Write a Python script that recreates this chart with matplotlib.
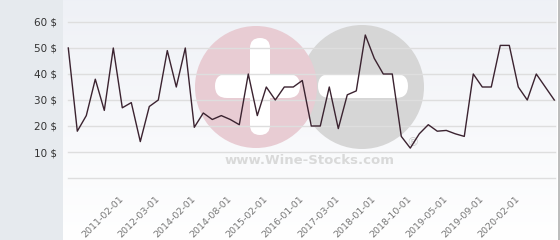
import numpy as np
import matplotlib
matplotlib.use("Agg")
import matplotlib.pyplot as plt
from matplotlib.patches import Circle, FancyBboxPatch, Rectangle

# ---- data ----
values = [50, 18, 24, 38, 26, 50, 27, 29, 14, 27.5, 30, 49, 35, 50,
          19.5, 25, 22.5, 24, 22.5, 20.5, 40, 24, 35, 30, 35, 35, 37.5,
          20, 20, 35, 19, 32, 33.5, 55, 46, 40, 40, 16, 11.5, 17, 20.5,
          18, 18.3, 17, 16, 40, 35, 35, 51, 51, 35, 30, 40, 35, 30]
tick_index = [6, 10, 14, 18, 22, 26, 30, 34, 38, 42, 46, 50]
tick_labels = ["2011-02-01", "2012-03-01", "2014-02-01", "2014-08-01",
               "2015-02-01", "2016-01-01", "2017-03-01", "2018-01-01",
               "2018-10-01", "2019-05-01", "2019-09-01", "2020-02-01"]
y_ticks = [10, 20, 30, 40, 50, 60]
y_labels = ["10 $", "20 $", "30 $", "40 $", "50 $", "60 $"]

W, H = 560, 240
fig = plt.figure(figsize=(W / 100, H / 100), dpi=100)
fig.patch.set_facecolor("white")

# left panel
fig.patches.append(Rectangle((0, 0), 63 / W, 1, transform=fig.transFigure,
                             facecolor="#e6eaee", edgecolor="none", zorder=0))

# gradient background
bg = fig.add_axes([63 / W, 0, (557 - 63) / W, 1], zorder=0)
grad = np.linspace(0, 1, 256).reshape(-1, 1)
top = np.array([0.937, 0.945, 0.965])
bot = np.array([1.0, 1.0, 1.0])
img = top[None, None, :] * (1 - grad[:, :, None]) + bot[None, None, :] * grad[:, :, None]
bg.imshow(img, aspect="auto", extent=[0, 1, 1, 0])
bg.set_axis_off()

# right border
fig.lines.append(plt.Line2D([558.5 / W, 558.5 / W], [0, 1], transform=fig.transFigure,
                            color="#b0b0b0", lw=1.2, zorder=5))

# watermark (pixel coordinates)
wm = fig.add_axes([0, 0, 1, 1], zorder=1)
wm.set_xlim(0, W)
wm.set_ylim(H, 0)
wm.set_axis_off()
wm.patch.set_alpha(0)
wm.add_patch(Circle((362, 87), 62, facecolor="#d6d6d6", edgecolor="none"))
wm.add_patch(Circle((256, 87), 61, facecolor="#e8ccd3", edgecolor="none"))
wm.add_patch(FancyBboxPatch((318, 74), 90, 24, boxstyle="round,pad=0,rounding_size=12",
                            facecolor="white", edgecolor="none"))
wm.add_patch(FancyBboxPatch((215, 74), 85, 24, boxstyle="round,pad=0,rounding_size=12",
                            facecolor="white", edgecolor="none"))
wm.add_patch(FancyBboxPatch((250, 38), 20, 97, boxstyle="round,pad=0,rounding_size=10",
                            facecolor="white", edgecolor="none"))
wm.text(310, 161, "www.Wine-Stocks.com", ha="center", va="center",
        fontsize=9.5, fontweight="bold", color="#d9d9d9", family="DejaVu Sans")
wm.text(413, 143, "®", ha="center", va="center", fontsize=9, color="#d0d0d0")

# main axes
ax = fig.add_axes([68 / W, 62 / H, (555 - 68) / W, 156 / H], zorder=2)
ax.patch.set_alpha(0)
x = np.arange(len(values))
ax.set_xlim(-0.033, len(values) - 1 + 0.08)
ax.set_ylim(0, 60)
for gy in [0] + y_ticks:
    ax.axhline(gy, color="#dedede", lw=1, zorder=1, clip_on=False)
ax.plot(x, values, color="#3b2330", lw=1.0, zorder=3, clip_on=False)
for s in ax.spines.values():
    s.set_visible(False)
ax.set_yticks(y_ticks)
ax.set_yticklabels(y_labels, fontsize=7.5, color="#333333")
ax.tick_params(axis="y", length=0, pad=8)
ax.set_xticks(tick_index)
ax.set_xticklabels(tick_labels, rotation=45, ha="right", va="center",
                   rotation_mode="anchor", fontsize=6.8, color="#777777")
ax.tick_params(axis="x", length=0, pad=14)

fig.savefig("out.png", dpi=100, facecolor=fig.get_facecolor())
